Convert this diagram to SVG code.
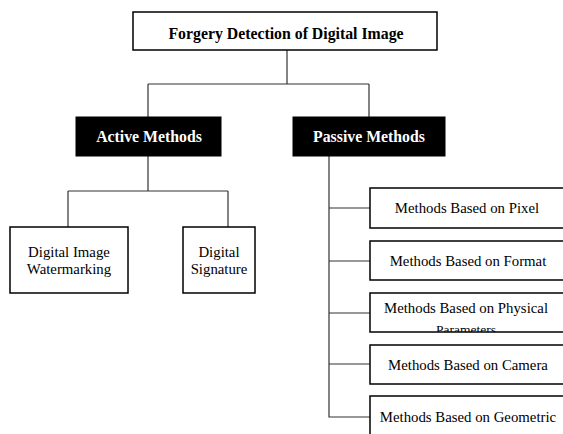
<svg xmlns="http://www.w3.org/2000/svg" width="563" height="434" viewBox="0 0 563 434">
<style>
.box{fill:#fff;stroke:#000;stroke-width:1.5}
.dark{fill:#000;stroke:#000;stroke-width:1}
.t{font-family:"Liberation Serif","Times New Roman",serif;font-size:14.8px;fill:#000;text-anchor:middle}
.b{font-weight:bold;font-size:15.8px}
.w{fill:#fff}
.c{fill:none;stroke:#333;stroke-width:1.2}
</style>
<defs>
<clipPath id="clipPhys"><rect x="370" y="293" width="200" height="39"/></clipPath>
</defs>
<rect width="563" height="434" fill="#fff"/>
<g id="connectors">
<path class="c" d="M287 50V84M148 84H369M148 84V117M369 84V117"/>
<path class="c" d="M148 156V191M68 191H228M68 191V227M228 191V227"/>
<path class="c" d="M329 156V417H370M329 208H370M329 261H370M329 313H370M329 364H370"/>
</g>
<g id="root"><rect class="box" x="133" y="12" width="304" height="38"/><text class="t b" x="286" y="39">Forgery Detection of Digital Image</text></g>
<g id="active"><rect class="dark" x="76" y="117" width="145" height="39"/><text class="t b w" x="149" y="142">Active Methods</text></g>
<g id="passive"><rect class="dark" x="293" y="117" width="152" height="39"/><text class="t b w" x="369" y="142">Passive Methods</text></g>
<g id="watermark"><rect class="box" x="10" y="227" width="118" height="66"/><text class="t" x="69" y="257">Digital Image</text><text class="t" x="69" y="274">Watermarking</text></g>
<g id="signature"><rect class="box" x="183" y="227" width="72" height="66"/><text class="t" x="219" y="257">Digital</text><text class="t" x="219" y="274">Signature</text></g>
<g id="pixel"><rect class="box" x="370" y="188" width="200" height="40"/><text class="t" x="467" y="213">Methods Based on Pixel</text></g>
<g id="format"><rect class="box" x="370" y="241" width="200" height="39"/><text class="t" x="468" y="266">Methods Based on Format</text></g>
<g id="physical"><rect class="box" x="370" y="293" width="200" height="39"/><text class="t" x="466" y="313">Methods Based on Physical</text><text class="t" x="466" y="334" style="font-size:13.5px" clip-path="url(#clipPhys)">Parameters</text></g>
<g id="camera"><rect class="box" x="370" y="345" width="200" height="39"/><text class="t" x="468" y="370">Methods Based on Camera</text></g>
<g id="geometric"><rect class="box" x="370" y="396" width="200" height="50"/><text class="t" x="468" y="422">Methods Based on Geometric</text></g>
</svg>
